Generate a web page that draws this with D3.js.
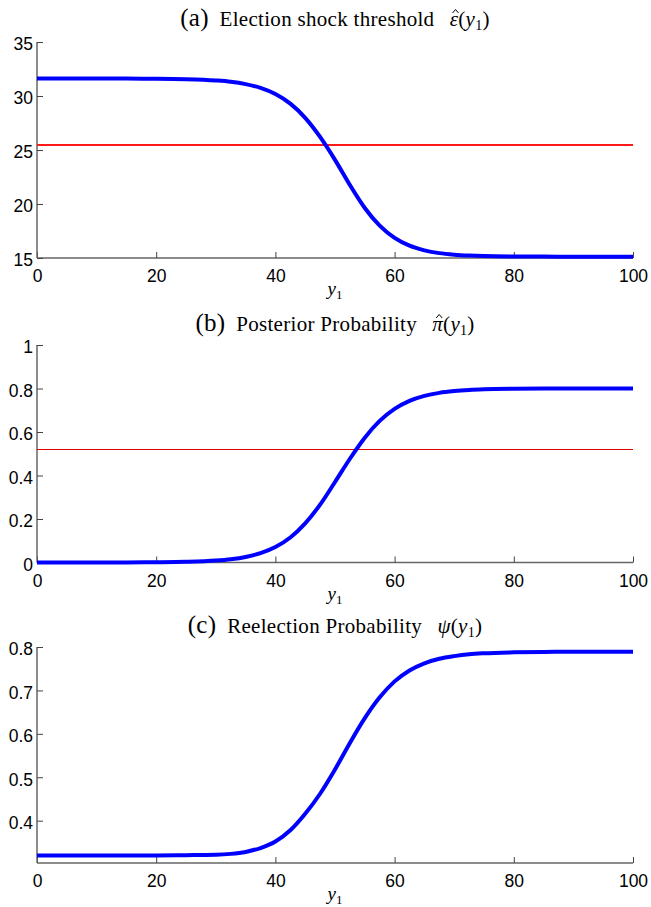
<!DOCTYPE html>
<html>
<head>
<meta charset="utf-8">
<script src="https://cdn.jsdelivr.net/npm/d3@7"></script>
<style>
  body { margin: 0; background: #fff; }
  svg text { fill: #000; }
  .title { font-family: "Liberation Serif", "Times New Roman", serif; font-size: 21px; letter-spacing: 0.3px; }
  .xlab { font-family: "Liberation Serif", "Times New Roman", serif; font-size: 19px; }
</style>
</head>
<body>
<div id="chart"></div>
<script>
// y1 grid shared by all three panels
var y1Grid = [0, 5, 10, 15, 20, 25, 30, 32.5, 35, 37.5, 40, 42.5, 45, 47.5, 50, 52.5, 55, 57.5, 60, 62.5, 65, 67.5, 70, 72.5, 75, 80, 85, 90, 95, 100];

// (a) election shock threshold
var epsHat = [31.62, 31.62, 31.62, 31.61, 31.60, 31.56, 31.44, 31.32, 31.10, 30.75, 30.18, 29.29, 27.98, 26.21, 24.09, 21.76, 19.63, 17.99, 16.86, 16.14, 15.71, 15.45, 15.31, 15.23, 15.18, 15.14, 15.13, 15.12, 15.12, 15.12];
var epsThreshold = 25.5;

// (b) posterior probability
var piHat = [0, 0, 0.0001, 0.0003, 0.001, 0.003, 0.0088, 0.015, 0.0255, 0.043, 0.0712, 0.115, 0.18, 0.266, 0.37, 0.477, 0.574, 0.651, 0.706, 0.743, 0.766, 0.78, 0.788, 0.793, 0.796, 0.7986, 0.7995, 0.80, 0.80, 0.80];
var piLevel = 0.522;

// (c) reelection probability
var psi = [0.32, 0.32, 0.32, 0.32, 0.32, 0.3205, 0.3215, 0.3235, 0.328, 0.337, 0.352, 0.378, 0.416, 0.462, 0.518, 0.579, 0.636, 0.684, 0.7208, 0.746, 0.7625, 0.7729, 0.779, 0.7832, 0.7855, 0.7877, 0.7887, 0.789, 0.789, 0.789];

var xTicks = [0, 20, 40, 60, 80, 100];

var panels = [
  { letter: '(a)', name: 'Election shock threshold', fn: '\u03B5', hat: true, values: epsHat,
    domain: [15, 35], ticks: [15, 20, 25, 30, 35], fmt: d3.format('d'),
    top: 42, bottom: 258, titleY: 26, hline: epsThreshold, hlineWidth: 2 },
  { letter: '(b)', name: 'Posterior Probability', fn: '\u03C0', hat: true, values: piHat,
    domain: [0, 1], ticks: [0, 0.2, 0.4, 0.6, 0.8, 1], fmt: function(d) { return d3.format('~g')(d); },
    top: 345, bottom: 562.5, titleY: 331, hline: piLevel, hlineWidth: 1 },
  { letter: '(c)', name: 'Reelection Probability', fn: '\u03C8', hat: false, values: psi,
    domain: [0.3025, 0.8], ticks: [0.4, 0.5, 0.6, 0.7, 0.8], fmt: d3.format('.1f'),
    top: 647, bottom: 863, titleY: 633, hline: null }
];

var width = 651, height = 907;
var left = 37, right = 633;

var svg = d3.select('#chart').append('svg')
  .attr('width', width)
  .attr('height', height);

var xScale = d3.scaleLinear().domain([0, 100]).range([left, right]);

panels.forEach(function(p) {
  var g = svg.append('g');
  var yScale = d3.scaleLinear().domain(p.domain).range([p.bottom, p.top]);

  // title
  var title = g.append('text')
    .attr('class', 'title')
    .attr('x', (left + right) / 2)
    .attr('y', p.titleY)
    .attr('text-anchor', 'middle');
  title.append('tspan').style('font-size', '25px').text(p.letter);
  title.append('tspan').text('\u2002' + p.name + '\u2002\u2009');
  title.append('tspan').style('font-style', 'italic').text(p.fn);
  title.append('tspan').text('(');
  title.append('tspan').style('font-style', 'italic').text('y');
  title.append('tspan').attr('dy', 4).style('font-size', '14px').text('1');
  title.append('tspan').attr('dy', -4).text(')');

  // hat accent over the symbol, drawn as a small stroke
  if (p.hat) {
    var idx = (p.letter + '\u2002' + p.name + '\u2002\u2009').length;
    var box = title.node().getExtentOfChar(idx);
    var cx = box.x + box.width / 2 + 1.5, cy = p.titleY - 13;
    g.append('path')
      .attr('d', 'M' + (cx - 3) + ',' + cy + 'L' + cx + ',' + (cy - 3.5) + 'L' + (cx + 3) + ',' + cy)
      .attr('fill', 'none')
      .attr('stroke', '#000')
      .attr('stroke-width', 1);
  }

  // axes (MATLAB style: ticks pointing inward)
  var xAxis = d3.axisBottom(xScale).tickValues(xTicks).tickSize(-6).tickPadding(12).tickFormat(d3.format('d'));
  var yAxis = d3.axisLeft(yScale).tickValues(p.ticks).tickSize(-6).tickPadding(10).tickFormat(p.fmt);

  var gx = g.append('g')
    .attr('transform', 'translate(0,' + p.bottom + ')')
    .call(xAxis);
  var gy = g.append('g')
    .attr('transform', 'translate(' + left + ',0)')
    .call(yAxis);

  [gx, gy].forEach(function(ax) {
    ax.select('.domain').attr('stroke', '#666').attr('stroke-width', 1.5);
    ax.selectAll('.tick line').attr('stroke', '#444').attr('stroke-width', 1);
    ax.selectAll('.tick text').attr('fill', '#000')
      .style('font-family', '"Liberation Sans", Arial, sans-serif').style('font-size', '17.5px');
  });
  gy.select('.domain').attr('d', 'M0,' + p.bottom + 'V' + p.top);
  gx.select('.domain').attr('d', 'M' + left + ',0H' + right);
  gy.selectAll('.tick text').attr('dy', '0.45em').attr('x', -4);
  gx.selectAll('.tick text').attr('dy', '0.71em');

  // x label
  var xl = g.append('text')
    .attr('class', 'xlab')
    .attr('x', (left + right) / 2)
    .attr('y', p.bottom + 37)
    .attr('text-anchor', 'middle');
  xl.append('tspan').style('font-style', 'italic').text('y');
  xl.append('tspan').attr('dy', 4).style('font-size', '13px').text('1');

  // horizontal reference line
  if (p.hline !== null) {
    g.append('line')
      .attr('x1', xScale(0))
      .attr('x2', xScale(100))
      .attr('y1', Math.round(yScale(p.hline)) + (p.hlineWidth === 1 ? 0.5 : 0))
      .attr('y2', Math.round(yScale(p.hline)) + (p.hlineWidth === 1 ? 0.5 : 0))
      .attr('stroke', p.hlineWidth === 1 ? '#e00000' : '#ff1a1a')
      .attr('stroke-width', p.hlineWidth);
  }

  // curve
  var line = d3.line()
    .x(function(d, i) { return xScale(y1Grid[i]); })
    .y(function(d) { return yScale(d); })
    .curve(d3.curveMonotoneX);

  g.append('path')
    .datum(p.values)
    .attr('fill', 'none')
    .attr('stroke', '#0000ff')
    .attr('stroke-width', 4)
    .attr('d', line);
});
</script>
</body>
</html>
